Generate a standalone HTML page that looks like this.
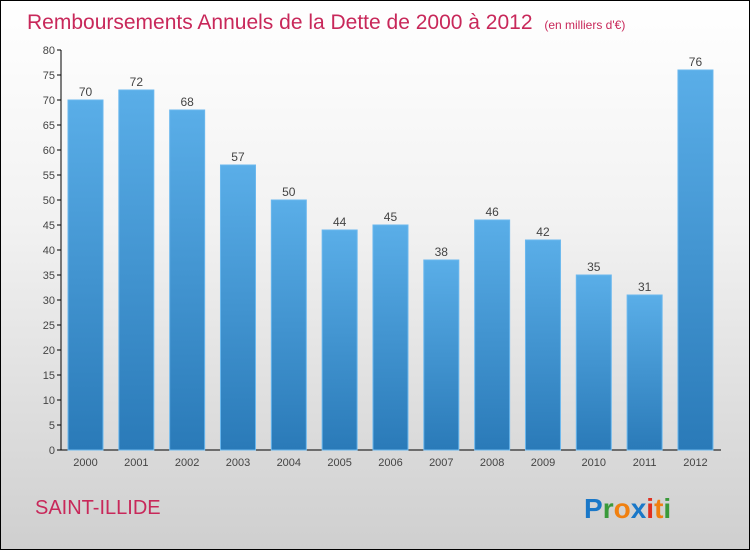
<!DOCTYPE html>
<html><head><meta charset="utf-8"><style>
body{margin:0}
#c{position:relative;width:748px;height:548px;border:1px solid #000;background:linear-gradient(#ffffff 0%,#f2f2f2 40%,#cfcfcf 100%);font-family:"Liberation Sans",sans-serif;overflow:hidden}
</style></head><body>
<div id="c">
<svg width="748" height="548" style="position:absolute;left:0;top:0" id="svg">
<defs><linearGradient id="bg" x1="0" y1="0" x2="0" y2="1"><stop offset="0" stop-color="#5aaee8"/><stop offset="1" stop-color="#2a7ab8"/></linearGradient></defs>
<text x="26" y="28" font-size="21" fill="#c8285a">Remboursements Annuels de la Dette de 2000 à 2012 <tspan font-size="12" dx="6">(en milliers d'€)</tspan></text>
<text x="34" y="513" font-size="20" fill="#c8285a">SAINT-ILLIDE</text>
<text x="583" y="517" font-size="28" font-weight="bold"><tspan fill="#1a78c8">P</tspan><tspan fill="#3a9a3a">r</tspan><tspan fill="#f08010">o</tspan><tspan fill="#1a78c8">x</tspan><tspan fill="#e03020">i</tspan><tspan fill="#f08010">t</tspan><tspan fill="#3a9a3a">i</tspan></text>
<g id="g"></g>
</svg>
</div>
<script>
const categories=["2000","2001","2002","2003","2004","2005","2006","2007","2008","2009","2010","2011","2012"];
const values=[70,72,68,57,50,44,45,38,46,42,35,31,76];
const yTicks=[0,5,10,15,20,25,30,35,40,45,50,55,60,65,70,75,80];
const ns="http://www.w3.org/2000/svg";
const g=document.getElementById('g');
const y=v=>449-v*5;
const x=i=>67+i*50.83;
function mk(t,a,p){const e=document.createElementNS(ns,t);for(const k in a)e.setAttribute(k,a[k]);(p||g).appendChild(e);return e;}
const ax=mk('line',{x1:60,y1:49,x2:60,y2:449,stroke:'#000'});


const bx=mk('line',{x1:60,y1:449,x2:720,y2:449,stroke:'#000'});


yTicks.forEach(t=>{
 const l=mk('line',{x1:56,y1:y(t),x2:60,y2:y(t),stroke:'#000'});
 
 
 const tx=mk('text',{x:54,y:y(t)+4,'font-size':11,fill:'#444','text-anchor':'end'});
 tx.textContent=t;
 
 
});
values.forEach((v,i)=>{
 const r=mk('rect',{x:x(i),y:y(v),width:35,height:v*5,fill:'url(#bg)',stroke:'#6bb8ee','stroke-width':1});
 
 
 const t=mk('text',{x:x(i)+17.5,y:y(v)-4,'font-size':12,fill:'#444','text-anchor':'middle'});
 t.textContent=v;
 
 
 const c=mk('text',{x:x(i)+17.5,y:465,'font-size':11,fill:'#444','text-anchor':'middle'});
 c.textContent=categories[i];
 
 
});
</script>
</body></html>
